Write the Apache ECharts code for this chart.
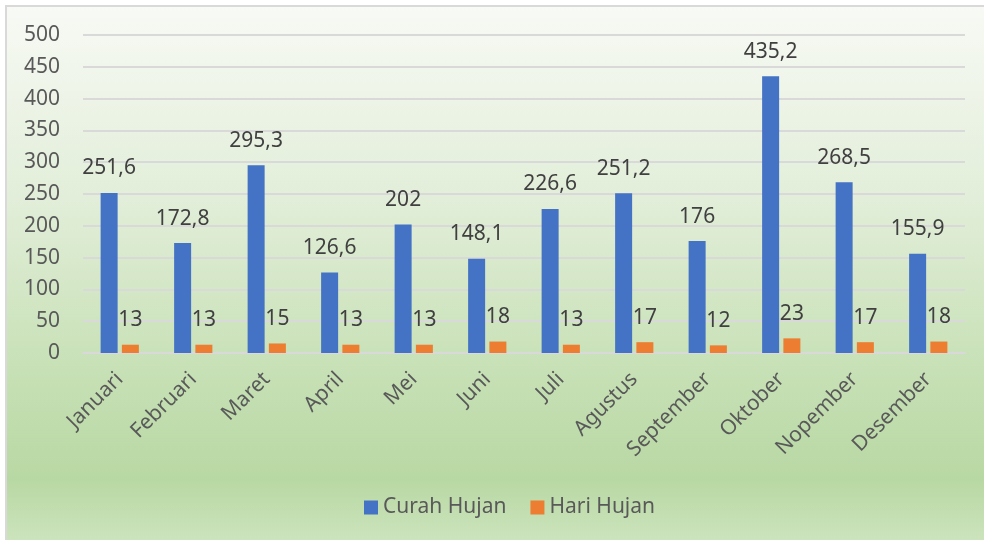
<!DOCTYPE html>
<html>
<head>
<meta charset="utf-8">
<script src="https://cdn.jsdelivr.net/npm/echarts@6/dist/echarts.min.js"></script>
<style>
html,body{margin:0;padding:0;background:#fff;}
#c{width:984px;height:540px;}
</style>
</head>
<body>
<div id="c"></div>
<script>
const categories = ['Januari','Februari','Maret','April','Mei','Juni','Juli','Agustus','September','Oktober','Nopember','Desember'];
const curahHujan = [251.6,172.8,295.3,126.6,202,148.1,226.6,251.2,176,435.2,268.5,155.9];
const hariHujan = [13,13,15,13,13,18,13,17,12,23,17,18];
const seriesNames = ['Curah Hujan','Hari Hujan'];
const yMin = 0, yMax = 500, yStep = 50;

const FONT = 'Noto Sans';
const FS = 21;
const fmt = p => String(p.value).replace('.', ',');
const chart = echarts.init(document.getElementById('c'));
chart.setOption({
  animation:false,
  textStyle:{fontFamily:FONT},
  graphic:[{
    type:'rect', z:-10, silent:true,
    shape:{x:6, y:6, width:990, height:550},
    style:{
      stroke:'#d9d9d9', lineWidth:2,
      fill:new echarts.graphic.LinearGradient(0,0,0,1,[
        {offset:0,color:'#f8faf5'},
        {offset:0.35,color:'#e2eed9'},
        {offset:0.65,color:'#c8e1b7'},
        {offset:0.86,color:'#b8d8a3'},
        {offset:1,color:'#d2e7c4'}
      ])
    }
  }],
  grid:{left:83, right:19, top:35, bottom:187},
  legend:{
    bottom:17, left:359,
    itemWidth:14, itemHeight:14, itemGap:24,
    icon:'rect',
    textStyle:{fontSize:FS, color:'#595959', fontFamily:FONT},
    data:seriesNames
  },
  xAxis:{
    type:'category', data:categories,
    axisLine:{lineStyle:{color:'#d9d9d9', width:2}},
    axisTick:{show:false},
    axisLabel:{rotate:45, fontSize:FS, color:'#595959', margin:23, interval:0, fontFamily:FONT}
  },
  yAxis:{
    type:'value', min:yMin, max:yMax, interval:yStep,
    axisLine:{show:false}, axisTick:{show:false},
    splitLine:{lineStyle:{color:'#d9d9d9', width:2}},
    axisLabel:{fontSize:FS, color:'#595959', margin:23, fontFamily:FONT}
  },
  series:[
    {name:seriesNames[0], type:'bar', data:curahHujan, barWidth:17, barGap:'25%',
     itemStyle:{color:'#4472C4'},
     label:{show:true, position:'top', distance:14, fontSize:FS, color:'#404040', formatter:fmt, fontFamily:FONT}},
    {name:seriesNames[1], type:'bar', data:hariHujan, barWidth:17, barGap:'25%',
     itemStyle:{color:'#ED7D31'},
     label:{show:true, position:'top', distance:14, fontSize:FS, color:'#404040', formatter:fmt, fontFamily:FONT}}
  ]
});
</script>
</body>
</html>
